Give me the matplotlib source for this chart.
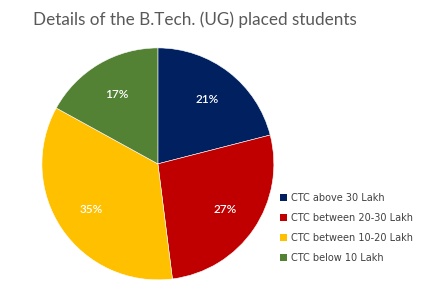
import matplotlib
matplotlib.use('Agg')
from matplotlib import pyplot as plt
from matplotlib.patches import Patch

# data
labels = ["CTC above 30 Lakh", "CTC between 20-30 Lakh",
          "CTC between 10-20 Lakh", "CTC below 10 Lakh"]
shares = [21, 27, 35, 17]
colors = ["#002060", "#C00000", "#FFC000", "#548235"]

fig = plt.figure(figsize=(4.46, 2.88), dpi=100)
fig.patch.set_facecolor("white")

ax = fig.add_axes([0.094, 0.028, 0.520, 0.806])
wedges, texts, autotexts = ax.pie(
    shares, colors=colors, startangle=90, counterclock=False,
    autopct="%d%%", pctdistance=0.70,
    wedgeprops=dict(edgecolor="white", linewidth=0.4),
    textprops=dict(color="white", fontsize=8.5, family="Lato", fontweight="semibold"))
ax.set_aspect("equal")
ax.set_xlim(-1.0, 1.0)
ax.set_ylim(-1.0, 1.0)

fig.text(0.074, 0.93, "Details of the B.Tech. (UG) placed students",
         fontsize=12.3, color="#595959", family="Lato", va="center")

handles = [Patch(facecolor=c, edgecolor="none") for c in colors]
fig.legend(handles, labels, loc="upper left", bbox_to_anchor=(0.62, 0.345),
           frameon=False, fontsize=7, labelcolor="#404040",
           handlelength=0.7, handleheight=0.7, handletextpad=0.4,
           labelspacing=1.05, borderaxespad=0)

fig.savefig("out.png", dpi=100)
